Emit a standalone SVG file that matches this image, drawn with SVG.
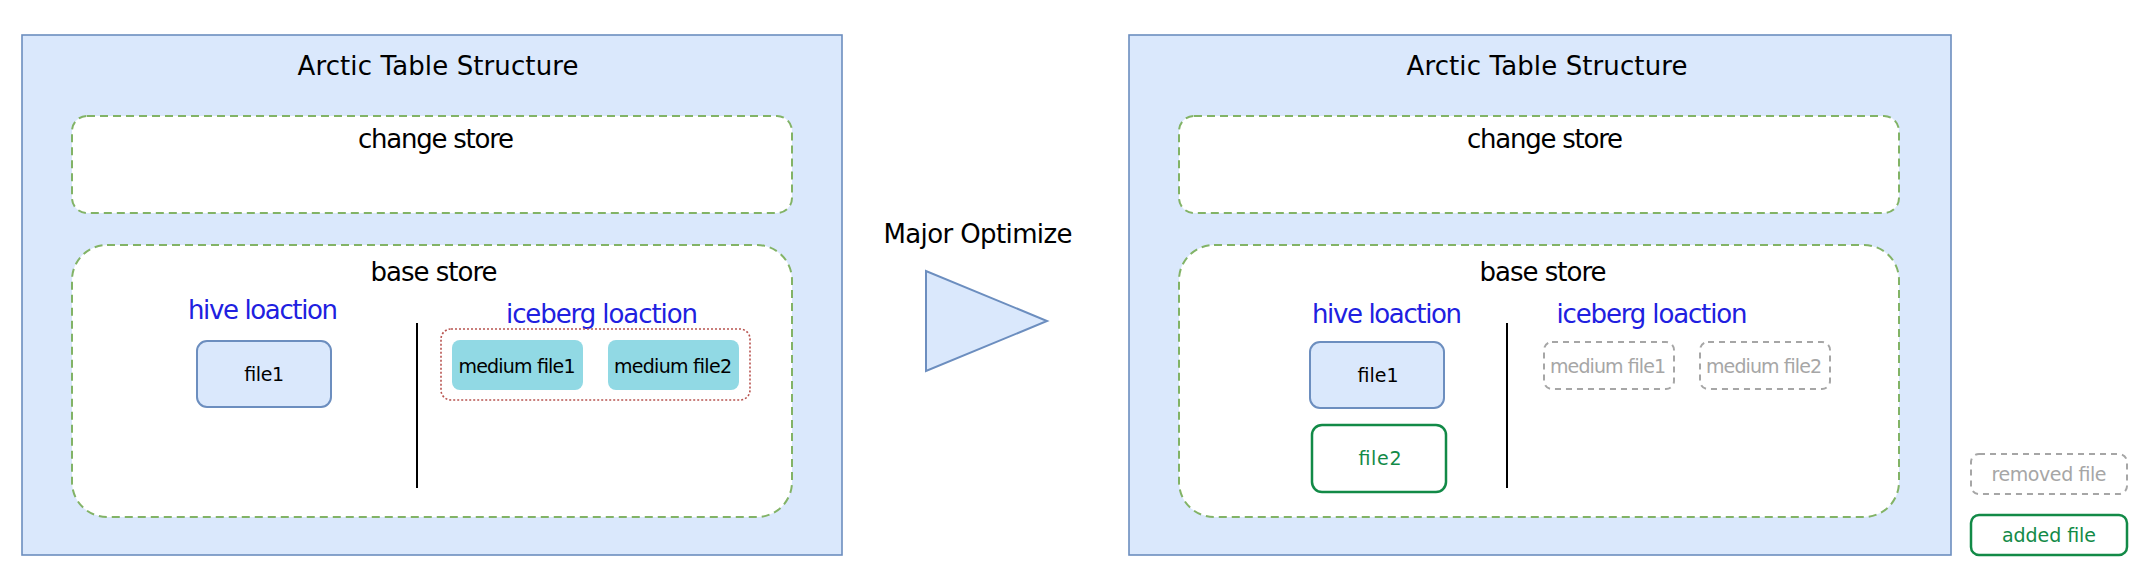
<svg xmlns="http://www.w3.org/2000/svg" width="2150" height="584" viewBox="0 0 2150 584">
<style>
text{font-family:"Comic Sans MS","DejaVu Sans",sans-serif;text-anchor:middle}
.big{font-size:26px;fill:#000}
.blue{font-size:26px;fill:#2020e0}
.small{font-size:19px;fill:#000}
.outer{fill:#dae8fc;stroke:#6c8ebf;stroke-width:1.6}
.store{fill:#fff;stroke:#82b366;stroke-width:2;stroke-dasharray:8 5}
.file{fill:#dae8fc;stroke:#6c8ebf;stroke-width:2}
.added{fill:#fff;stroke:#128a47;stroke-width:2.5}
.gtxt{font-size:19px;fill:#128a47}
.removed{fill:#fff;stroke:#a6a6a6;stroke-width:2;stroke-dasharray:6 5}
.rtxt{font-size:19px;fill:#a6a6a6}
.medium{fill:#91d9e4;stroke:none}
.sep{stroke:#000;stroke-width:2}
</style>
<rect width="2150" height="584" fill="#fff"/>

<g id="left-table">
  <rect class="outer" x="22" y="35" width="820" height="520"/>
  <text class="big" x="438" y="75" textLength="281">Arctic Table Structure</text>
</g>
<g id="left-change-store">
  <rect class="store" x="72" y="116" width="720" height="97" rx="15"/>
  <text class="big" x="436" y="148" textLength="156">change store</text>
</g>
<g id="left-base-store">
  <rect class="store" x="72" y="245" width="720" height="272" rx="35"/>
  <text class="big" x="434" y="281" textLength="127">base store</text>
</g>
<g id="left-hive-location">
  <text class="blue" x="263" y="319" textLength="150">hive loaction</text>
</g>
<g id="left-file1">
  <rect class="file" x="197" y="341" width="134" height="66" rx="10"/>
  <text class="small" x="264" y="381" textLength="40">file1</text>
</g>
<g id="left-separator">
  <line class="sep" x1="417" y1="323" x2="417" y2="488"/>
</g>
<g id="left-iceberg-location">
  <text class="blue" x="602" y="323" textLength="192">iceberg loaction</text>
  <rect x="441" y="329" width="309" height="71" rx="10" fill="none" stroke="#b85450" stroke-width="1.6" stroke-dasharray="2 2"/>
</g>
<g id="left-medium-file1">
  <rect class="medium" x="452" y="340" width="131" height="50" rx="8"/>
  <text class="small" x="517" y="373" textLength="117">medium file1</text>
</g>
<g id="left-medium-file2">
  <rect class="medium" x="608" y="340" width="131" height="50" rx="8"/>
  <text class="small" x="673" y="373" textLength="118">medium file2</text>
</g>

<g id="major-optimize">
  <text class="big" x="978" y="243" textLength="189">Major Optimize</text>
  <polygon points="926,271 926,371 1047,321" fill="#dae8fc" stroke="#6c8ebf" stroke-width="2"/>
</g>

<g id="right-table">
  <rect class="outer" x="1129" y="35" width="822" height="520"/>
  <text class="big" x="1547" y="75" textLength="281">Arctic Table Structure</text>
</g>
<g id="right-change-store">
  <rect class="store" x="1179" y="116" width="720" height="97" rx="15"/>
  <text class="big" x="1545" y="148" textLength="156">change store</text>
</g>
<g id="right-base-store">
  <rect class="store" x="1179" y="245" width="720" height="272" rx="35"/>
  <text class="big" x="1543" y="281" textLength="127">base store</text>
</g>
<g id="right-hive-location">
  <text class="blue" x="1387" y="323" textLength="150">hive loaction</text>
</g>
<g id="right-file1">
  <rect class="file" x="1310" y="342" width="134" height="66" rx="10"/>
  <text class="small" x="1378" y="382" textLength="41">file1</text>
</g>
<g id="right-file2">
  <rect class="added" x="1312" y="425" width="134" height="67" rx="10"/>
  <text class="gtxt" x="1380" y="465" textLength="43">file2</text>
</g>
<g id="right-separator">
  <line class="sep" x1="1507" y1="323" x2="1507" y2="488"/>
</g>
<g id="right-iceberg-location">
  <text class="blue" x="1652" y="323" textLength="191">iceberg loaction</text>
</g>
<g id="right-medium-file1">
  <rect class="removed" x="1544" y="342" width="130" height="47" rx="8"/>
  <text class="rtxt" x="1608" y="373" textLength="116">medium file1</text>
</g>
<g id="right-medium-file2">
  <rect class="removed" x="1700" y="342" width="130" height="47" rx="8"/>
  <text class="rtxt" x="1764" y="373" textLength="116">medium file2</text>
</g>

<g id="legend-removed">
  <rect class="removed" x="1971" y="454" width="156" height="40" rx="8"/>
  <text class="rtxt" x="2049" y="481" textLength="115">removed file</text>
</g>
<g id="legend-added">
  <rect class="added" x="1971" y="515" width="156" height="40" rx="8"/>
  <text class="gtxt" x="2049" y="542" textLength="94">added file</text>
</g>

<g id="connectors"></g>
</svg>
